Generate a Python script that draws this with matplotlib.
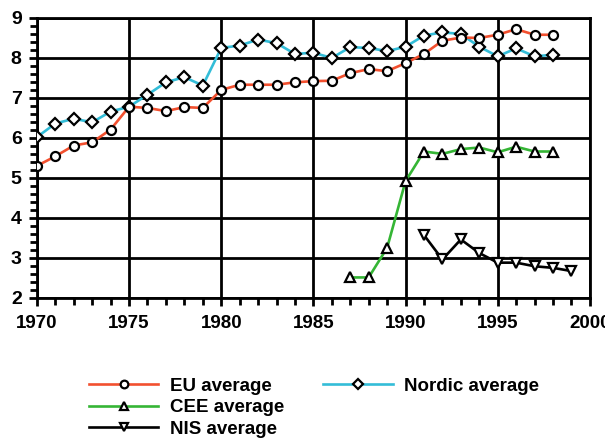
import matplotlib
matplotlib.use("Agg")
import matplotlib.pyplot as plt
from matplotlib.ticker import MultipleLocator
from matplotlib.lines import Line2D

plt.rcParams['font.family'] = ['Liberation Sans', 'DejaVu Sans']
plt.rcParams['font.weight'] = 'bold'

eu_years = list(range(1970, 1999))
eu_vals = [5.3, 5.54, 5.81, 5.89, 6.21, 6.78, 6.75, 6.67, 6.77, 6.75,
           7.2, 7.33, 7.33, 7.33, 7.39, 7.42, 7.43, 7.62, 7.72, 7.67,
           7.87, 8.1, 8.43, 8.51, 8.5, 8.58, 8.72, 8.58, 8.58]

nordic_years = list(range(1970, 1999))
nordic_vals = [6.02, 6.36, 6.48, 6.39, 6.66, 6.78, 7.08, 7.39, 7.52, 7.31,
               8.25, 8.31, 8.46, 8.37, 8.1, 8.13, 8.0, 8.27, 8.25, 8.17,
               8.28, 8.56, 8.64, 8.6, 8.28, 8.04, 8.24, 8.04, 8.08]

cee_years = list(range(1987, 1999))
cee_vals = [2.51, 2.51, 3.25, 4.92, 5.66, 5.6, 5.72, 5.76, 5.64, 5.78, 5.66, 5.66]

nis_years = list(range(1991, 2000))
nis_vals = [3.57, 2.96, 3.46, 3.12, 2.88, 2.88, 2.79, 2.75, 2.67]

fig = plt.figure(figsize=(6.05, 4.38), dpi=100)
ax = fig.add_axes([0.061, 0.320, 0.914, 0.639])

mk = dict(markerfacecolor='white', markeredgecolor='black', markeredgewidth=1.6,
          markersize=6.5, linewidth=1.9)
l_eu, = ax.plot(eu_years, eu_vals, color='#F2502F', marker='o', label='EU average', zorder=4, **mk)
l_no, = ax.plot(nordic_years, nordic_vals, color='#33BDD8', marker='D', label='Nordic average', zorder=3,
                **{**mk, 'markersize': 6})
l_cee, = ax.plot(cee_years, cee_vals, color='#35B535', marker='^', label='CEE average', zorder=4, **mk)
l_nis, = ax.plot(nis_years, nis_vals, color='black', marker='v', label='NIS average', zorder=4, **mk)

ax.set_xlim(1970, 2000)
ax.set_ylim(2, 9)
ax.xaxis.set_major_locator(MultipleLocator(5))
ax.xaxis.set_minor_locator(MultipleLocator(1))
ax.yaxis.set_major_locator(MultipleLocator(1))
ax.yaxis.set_minor_locator(MultipleLocator(0.2))
ax.grid(True, which='major', color='black', linewidth=2)
ax.set_axisbelow(True)
for s in ax.spines.values():
    s.set_linewidth(2)
ax.tick_params(which='major', direction='out', length=6, width=2, labelsize=14, pad=5)
ax.tick_params(axis='x', which='major', labelsize=13.5, pad=6)
ax.tick_params(which='minor', direction='out', length=5, width=2)
for lab in ax.get_xticklabels() + ax.get_yticklabels():
    lab.set_fontweight('bold')

blank = Line2D([], [], linestyle='none', marker='none')
handles = [l_eu, l_cee, l_nis, l_no, blank, blank]
labels = ['EU average', 'CEE average', 'NIS average', 'Nordic average', '', '']
leg = fig.legend(handles, labels, ncol=2, loc='upper left', bbox_to_anchor=(0.147, 0.138),
                 frameon=False, fontsize=13.5, handlelength=3.7, handletextpad=0.6,
                 columnspacing=2.1, labelspacing=0.24, borderaxespad=0, borderpad=0,
                 markerscale=0.85)
for t in leg.get_texts():
    t.set_fontweight('bold')

fig.savefig('out.png', dpi=100)
